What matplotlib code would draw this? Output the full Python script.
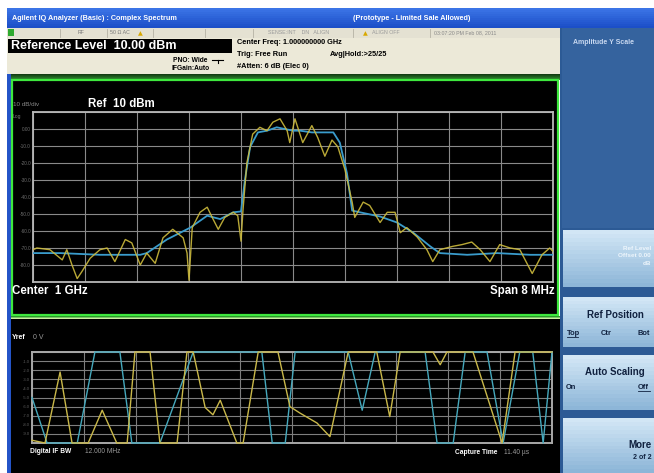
import matplotlib
matplotlib.use("Agg")
import matplotlib.pyplot as plt
from matplotlib.patches import Rectangle
import matplotlib.colors as mcolors
import numpy as np

plt.rcParams['font.family'] = ['Liberation Sans', 'DejaVu Sans']

# ---------------- data ----------------
# Spectrum: frequency offset from 1 GHz centre (MHz) and level (dBm)
spec_freq_yellow = [-4.00, -3.94, -3.74, -3.55, -3.48, -3.40, -3.32, -3.25, -3.12, -2.97,
                    -2.86, -2.74, -2.58, -2.48, -2.35, -2.25, -2.12, -2.00, -1.85, -1.69,
                    -1.63, -1.60, -1.55, -1.43, -1.32, -1.23, -1.15, -1.05, -0.92, -0.85,
                    -0.80, -0.77, -0.71, -0.62, -0.51, -0.40, -0.31, -0.20, -0.09, -0.05,
                    0.03, 0.15, 0.29, 0.38, 0.49, 0.60, 0.69, 0.80, 0.91, 0.95,
                    1.08, 1.18, 1.34, 1.45, 1.57, 1.65, 1.75, 1.91, 2.06, 2.15,
                    2.26, 2.46, 2.60, 2.75, 2.88, 3.03, 3.18, 3.34, 3.49, 3.68,
                    3.83, 3.95, 4.00]
spec_amp_yellow = [-71, -70, -71, -77, -71, -80, -88, -84, -76, -71,
                   -70, -78, -65, -67, -80, -73, -79, -64, -59, -64,
                   -73, -89, -58, -49, -46, -53, -59, -52, -49, -51,
                   -66, -48, -20, -3, 1, -1, 4, 6, -1, -8,
                   6, -8, 2, -5, -16, -6.5, -10.5, -24, -43, -52,
                   -43, -45, -55, -49, -49, -61, -58, -63.5, -71, -78,
                   -71, -69, -68, -66.5, -71, -78, -68, -70, -71, -85,
                   -74, -70, -72]
spec_freq_blue = [-4.00, -3.58, -2.97, -2.35, -2.25, -1.94, -1.58, -1.32, -1.12, -0.92,
                  -0.80, -0.74, -0.66, -0.54, -0.40, -0.25, 0.00, 0.11, 0.29, 0.62,
                  0.72, 0.83, 0.91, 1.03, 1.34, 1.60, 1.85, 2.11, 2.26, 2.68,
                  3.14, 3.65, 4.00]
spec_amp_blue = [-73, -73, -74, -74, -73, -65, -58, -51, -53, -49,
                 -48.5, -30, -10.6, -2, -1, 1, -1, -1, -2, -2,
                 -8, -26, -48, -49, -51.5, -55, -61, -69, -73, -74,
                 -73, -74, -74]
spec_yticks = [10, 0, -10, -20, -30, -40, -50, -60, -70, -80, -90]
spec_ytick_labels = ["", "0.00", "-10.0", "-20.0", "-30.0", "-40.0", "-50.0",
                     "-60.0", "-70.0", "-80.0", ""]

# I/Q waveform (time in divisions, amplitude in divisions, clipped to screen)
iq_t_yellow = [0.0, 0.25, 0.54, 0.77, 1.08, 1.35, 1.63, 1.83, 1.98, 2.27,
               2.46, 2.79, 2.98, 3.10, 3.33, 3.48, 3.62, 3.94, 4.06, 4.35,
               4.73, 4.96, 5.15, 5.48, 5.73, 6.08, 6.63, 6.88, 7.08, 7.71,
               7.85, 7.98, 8.48, 9.04, 9.29, 10.0]
iq_v_yellow = [0.3, 0, 7.8, 0, 0, 3.6, 0, 0, 10, 10,
               0, 0, 10, 10, 3.9, 3.1, 4.7, 0, 0, 10,
               10, 4.0, 3.3, 2.2, 0.7, 10, 10, 2.9, 10, 10,
               8.6, 10, 10, 0, 10, 10]
iq_t_cyan = [0.0, 0.29, 0.87, 1.21, 1.69, 1.92, 2.46, 3.10, 4.42, 4.62,
             4.87, 5.06, 6.08, 6.35, 6.60, 7.56, 7.79, 8.10, 8.33, 8.75,
             9.06, 9.38, 9.63, 9.83, 10.0]
iq_v_cyan = [5.0, 0, 0, 10, 10, 0, 0, 10, 10, 0,
             0, 10, 10, 3.6, 10, 10, 0, 0, 10, 10,
             0, 10, 10, 0, 10]
iq_yticks = [0, 1, 2, 3, 4, 5, 6, 7, 8, 9, 10]
iq_ytick_labels = ["", "-9.0", "-8.0", "-7.0", "-6.0", "-5.0", "-4.0",
                   "-3.0", "-2.0", "-1.0", ""]

# ---------------- figure ----------------
W, H = 654, 473
fig = plt.figure(figsize=(W / 100, H / 100), dpi=100)
fig.patch.set_facecolor("white")
bg = fig.add_axes([0, 0, 1, 1])
bg.set_xlim(0, W)
bg.set_ylim(H, 0)
bg.axis("off")


def rect(x0, y0, x1, y1, color, **kw):
    bg.add_patch(Rectangle((x0, y0), x1 - x0, y1 - y0, facecolor=color,
                           edgecolor=kw.pop("ec", "none"), **kw))


def vgrad(x0, y0, x1, y1, c0, c1, n=12):
    a = np.array(mcolors.to_rgb(c0))
    b = np.array(mcolors.to_rgb(c1))
    h = (y1 - y0) / n
    for i in range(n):
        t = i / (n - 1)
        rect(x0, y0 + i * h, x1, y0 + (i + 1) * h + 0.4, tuple(a * (1 - t) + b * t))


def txt(x, y, s, size=5, color="black", weight="normal", ha="left", **kw):
    bg.text(x, y, s, fontsize=size, color=color, fontweight=weight, ha=ha,
            va="center", **kw)


def px_axes(x0, y0, x1, y1):
    return fig.add_axes([x0 / W, 1 - y1 / H, (x1 - x0) / W, (y1 - y0) / H])


# title bar
vgrad(7, 8, W, 28, "#3b74e6", "#1c4fc8", n=10)
txt(12, 18, "Agilent IQ Analyzer (Basic) : Complex Spectrum", 5.2, "white", "bold")
txt(353, 18, "(Prototype - Limited Sale Allowed)", 5.2, "white", "bold")

# status row
rect(7, 28, 560, 38, "#e4e1d2")
rect(8, 29.5, 14, 36.5, "#2faa2f")
for xd in [60, 107, 153, 205, 253, 353, 430]:
    bg.plot([xd, xd], [29, 37], color="#b5b2a4", lw=0.6)
txt(78, 33, "RF", 3.8, "#777")
txt(110, 33, "50 \u03a9 AC", 3.8, "#777")
txt(138, 33.5, "\u25b2", 4.5, "#d8a800", family=["DejaVu Sans"])
txt(268, 33, "SENSE:INT    DN   ALIGN", 3.8, "#999")
txt(363, 33.5, "\u25b2", 4.5, "#d8a800", family=["DejaVu Sans"])
txt(372, 33, "ALIGN OFF", 3.8, "#999")
txt(434, 33, "03:07:20 PM Feb 08, 2011", 3.8, "#888")

# info area
rect(7, 38, 560, 74, "#ece9d8")
rect(8, 39, 232, 53, "black")
txt(11, 46.2, "Reference Level  10.00 dBm", 9, "white", "bold")
txt(237, 43, "Center Freq: 1.000000000 GHz", 5.3, "black", "bold")
txt(237, 55, "Trig: Free Run", 5.3, "black", "bold")
txt(330, 55, "Avg|Hold:>25/25", 5.3, "black", "bold")
txt(207, 60, "PNO: Wide", 4.8, "black", "bold", ha="right")
txt(210, 68, "IFGain:Auto", 4.8, "black", "bold", ha="right")
txt(237, 67, "#Atten: 6 dB (Elec 0)", 5.3, "black", "bold")
bg.plot([212, 223], [60, 60], color="black", lw=0.8)
bg.plot([217.5, 217.5], [60, 63], color="black", lw=0.8)

# green band and left blue edge
vgrad(7, 74, 560, 80, "#123d12", "#2e8b2e", n=6)
rect(7, 74, 11, H, "#2454c8")

# spectrum panel
rect(11, 80, 558, 316, "black")
bg.add_patch(Rectangle((11.5, 80.5), 546, 234, facecolor="none",
                       edgecolor="#3ee83e", lw=1.6))
vgrad(11, 316, 560, 319, "#2a9a2a", "#c8f0a0", n=3)

# lower panel
rect(11, 319, 562, H, "black")

# right soft-key panel
rect(560, 28, W, H, "#2c5a95")
rect(562, 28, W, 228, "#35639e")
txt(573, 42, "Amplitude Y Scale", 5, "#c8d8f0", "bold")


def button(y0, y1):
    vgrad(563, y0, W, y1, "#d2e6f5", "#8db6d8", n=14)


button(230, 287)
button(297, 347)
button(355, 410)
button(418, H)
for yy, s in [(248, "Ref Level"), (255.5, "Offset 0.00"), (263, "dB")]:
    txt(651, yy, s, 4.6, "#eef6fc", "bold", ha="right")
txt(587, 315, "Ref Position", 7, "#10213f", "bold")
txt(567, 333, "Top", 5.4, "#10213f", "bold")
bg.plot([567, 578], [337, 337], color="#10213f", lw=0.6)
txt(601, 333, "Ctr", 5.4, "#10213f", "bold")
txt(638, 333, "Bot", 5.4, "#10213f", "bold")
txt(585, 372, "Auto Scaling", 7, "#10213f", "bold")
txt(566, 387, "On", 5.4, "#10213f", "bold")
txt(638, 387, "Off", 5.4, "#10213f", "bold")
bg.plot([638, 650], [391, 391], color="#10213f", lw=0.6)
txt(652, 445, "More", 7, "#10213f", "bold", ha="right")
txt(652, 457, "2 of 2", 5, "#10213f", "bold", ha="right")

# spectrum texts
txt(13, 104, "10 dB/div", 4.5, "#8a8a8a")
txt(88, 104, "Ref  10 dBm", 8.3, "white", "bold")
txt(13, 116, "Log", 3.6, "#7a7a7a")
txt(12, 291, "Center  1 GHz", 8.3, "white", "bold")
txt(555, 291, "Span 8 MHz", 8.3, "white", "bold", ha="right")

# lower panel texts
txt(12, 337, "Yref", 5, "white", "bold")
txt(33, 337, "0 V", 5, "#9a9a9a")
txt(30, 451, "Digital IF BW", 4.8, "white", "bold")
txt(85, 451, "12.000 MHz", 4.8, "#9a9a9a")
txt(455, 452, "Capture Time", 4.8, "white", "bold")
txt(504, 452, "11.40 \u00b5s", 4.8, "#9a9a9a")

# ---------------- spectrum axes ----------------
ax = px_axes(33, 112, 553, 282)
ax.set_facecolor("black")
ax.set_xlim(-4, 4)
ax.set_ylim(-90, 10)
ax.set_xticks(np.linspace(-4, 4, 11))
ax.set_yticks(spec_yticks)
ax.set_yticklabels(spec_ytick_labels)
ax.grid(True, color="#8a8a8a", lw=0.8)
ax.tick_params(length=0, labelbottom=False, labelsize=3.4,
               labelcolor="#6e6e6e", pad=1.5)
for sp in ax.spines.values():
    sp.set_color("#b8b8b8")
    sp.set_linewidth(1.3)
ax.plot(spec_freq_blue, spec_amp_blue, color="#3a9ccc", lw=1.3, zorder=3)
ax.plot(spec_freq_yellow, spec_amp_yellow, color="#cdbb3c", lw=1.0,
        alpha=0.9, zorder=4)

# ---------------- I/Q waveform axes ----------------
ax2 = px_axes(32, 352, 552, 443)
ax2.set_facecolor("black")
ax2.set_xlim(0, 10)
ax2.set_ylim(0, 10)
ax2.set_xticks(np.arange(0, 11, 1))
ax2.set_yticks(iq_yticks)
ax2.set_yticklabels(iq_ytick_labels)
ax2.grid(True, color="#7e7e7e", lw=0.8)
ax2.tick_params(length=0, labelbottom=False, labelsize=3.0,
                labelcolor="#5e5e5e", pad=1.5)
for sp in ax2.spines.values():
    sp.set_color("#a8a8a8")
    sp.set_linewidth(1.4)
ax2.plot(iq_t_cyan, iq_v_cyan, color="#45a8bc", lw=1.0, zorder=3, clip_on=False)
ax2.plot(iq_t_yellow, iq_v_yellow, color="#c9b84a", lw=1.0, zorder=4,
         clip_on=False)

fig.savefig("out.png", dpi=100, facecolor="white")
